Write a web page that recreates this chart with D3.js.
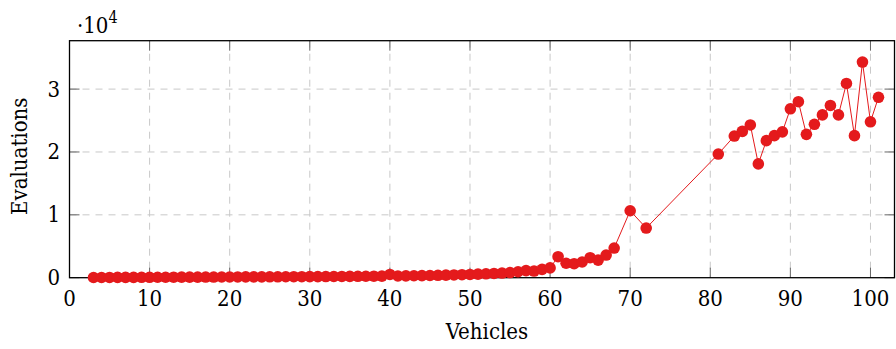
<!DOCTYPE html>
<html>
<head>
<meta charset="utf-8">
<script src="https://cdn.jsdelivr.net/npm/d3@7"></script>
<style>
  html, body { margin: 0; padding: 0; background: #fff; }
  #chart text { font-family: "DejaVu Serif", serif; font-stretch: condensed; }
</style>
</head>
<body>
<svg id="chart" width="896" height="349"></svg>
<script>
// Number of vehicles in each run
const vehicles = [
  3, 4, 5, 6, 7, 8, 9, 10, 11, 12, 13, 14, 15, 16, 17, 18, 19, 20,
  21, 22, 23, 24, 25, 26, 27, 28, 29, 30, 31, 32, 33, 34, 35, 36, 37, 38, 39, 40,
  41, 42, 43, 44, 45, 46, 47, 48, 49, 50, 51, 52, 53, 54, 55, 56, 57, 58, 59, 60,
  61, 62, 63, 64, 65, 66, 67, 68, 70, 72,
  81, 83, 84, 85, 86, 87, 88, 89, 90, 91, 92, 93, 94, 95, 96, 97, 98, 99, 100, 101
];

// Evaluations needed for each run
const evaluations = [
  30, 35, 40, 45, 50, 55, 60, 65, 70, 75, 80, 85, 90, 95, 100, 105, 110, 115,
  120, 125, 130, 135, 140, 145, 150, 155, 160, 170, 175, 180, 190, 200, 210, 220, 230, 240, 250, 520,
  270, 290, 310, 330, 350, 380, 410, 440, 480, 520, 570, 620, 680, 740, 820, 950, 1120, 1060, 1330, 1560,
  3340, 2300, 2230, 2500, 3180, 2800, 3600, 4720, 10650, 7900,
  19670, 22530, 23270, 24300, 18100, 21800, 22600, 23200, 26870, 28000, 22800, 24400, 25900, 27400, 25900, 30900, 22600, 34300, 24800, 28700
];

const xTicks = [0, 10, 20, 30, 40, 50, 60, 70, 80, 90, 100];
const yTicks = [0, 10000, 20000, 30000];

const xLabel = "Vehicles";
const yLabel = "Evaluations";

const points = vehicles.map((v, i) => ({ x: v, y: evaluations[i] }));

const svg = d3.select("#chart");
const plot = { left: 69.5, right: 894.5, top: 40.7, bottom: 277.7 };

const x = d3.scaleLinear().domain([0, 103]).range([plot.left, plot.right]);
const y = d3.scaleLinear().domain([0, 37700]).range([plot.bottom, plot.top]);

const red = "#e41a1c";
const fontSize = 22;

// dashed grid
const grid = svg.append("g");
grid.selectAll("line.gx").data(xTicks.filter(t => t > 0)).enter().append("line")
  .attr("x1", d => x(d)).attr("x2", d => x(d))
  .attr("y1", plot.top).attr("y2", plot.bottom)
  .attr("stroke", "#c8c8c8").attr("stroke-width", 1).attr("stroke-dasharray", "7,6");
grid.selectAll("line.gy").data(yTicks.filter(t => t > 0)).enter().append("line")
  .attr("x1", plot.left).attr("x2", plot.right)
  .attr("y1", d => y(d)).attr("y2", d => y(d))
  .attr("stroke", "#c8c8c8").attr("stroke-width", 1).attr("stroke-dasharray", "7,6");

// tick marks pointing inward on all four sides
const tickLen = 10;
const ticks = svg.append("g").attr("stroke", "#666").attr("stroke-width", 1);
xTicks.forEach(t => {
  ticks.append("line").attr("x1", x(t)).attr("x2", x(t)).attr("y1", plot.bottom).attr("y2", plot.bottom - tickLen);
  ticks.append("line").attr("x1", x(t)).attr("x2", x(t)).attr("y1", plot.top).attr("y2", plot.top + tickLen);
});
yTicks.forEach(t => {
  ticks.append("line").attr("x1", plot.left).attr("x2", plot.left + tickLen).attr("y1", y(t)).attr("y2", y(t));
  ticks.append("line").attr("x1", plot.right).attr("x2", plot.right - tickLen).attr("y1", y(t)).attr("y2", y(t));
});

// frame
svg.append("rect")
  .attr("x", plot.left).attr("y", plot.top)
  .attr("width", plot.right - plot.left).attr("height", plot.bottom - plot.top)
  .attr("fill", "none").attr("stroke", "#000").attr("stroke-width", 1.3);

// tick labels
svg.append("g").selectAll("text").data(xTicks).enter().append("text")
  .attr("x", d => x(d)).attr("y", 306)
  .attr("text-anchor", "middle").attr("font-size", fontSize)
  .text(d => d);
svg.append("g").selectAll("text").data(yTicks).enter().append("text")
  .attr("x", 60).attr("y", d => y(d) + 7.5)
  .attr("text-anchor", "end").attr("font-size", fontSize)
  .text(d => d / 10000);

// scale factor for the y axis
const sf = svg.append("text").attr("x", 77).attr("y", 33).attr("font-size", fontSize);
sf.append("tspan").text("\u00b710");
sf.append("tspan").attr("dy", -10).attr("font-size", 16).text("4");

// axis titles
svg.append("text")
  .attr("x", (plot.left + plot.right) / 2 + 5).attr("y", 339)
  .attr("text-anchor", "middle").attr("font-size", fontSize)
  .text(xLabel);
svg.append("text")
  .attr("transform", `translate(27, ${(plot.top + plot.bottom) / 2 - 3}) rotate(-90)`)
  .attr("text-anchor", "middle").attr("font-size", fontSize)
  .text(yLabel);

// data line and markers
const line = d3.line().x(d => x(d.x)).y(d => y(d.y));
svg.append("path").datum(points)
  .attr("d", line)
  .attr("fill", "none").attr("stroke", red).attr("stroke-width", 1);
svg.append("g").selectAll("circle").data(points).enter().append("circle")
  .attr("cx", d => x(d.x)).attr("cy", d => y(d.y))
  .attr("r", 5.8).attr("fill", red);
</script>
</body>
</html>
